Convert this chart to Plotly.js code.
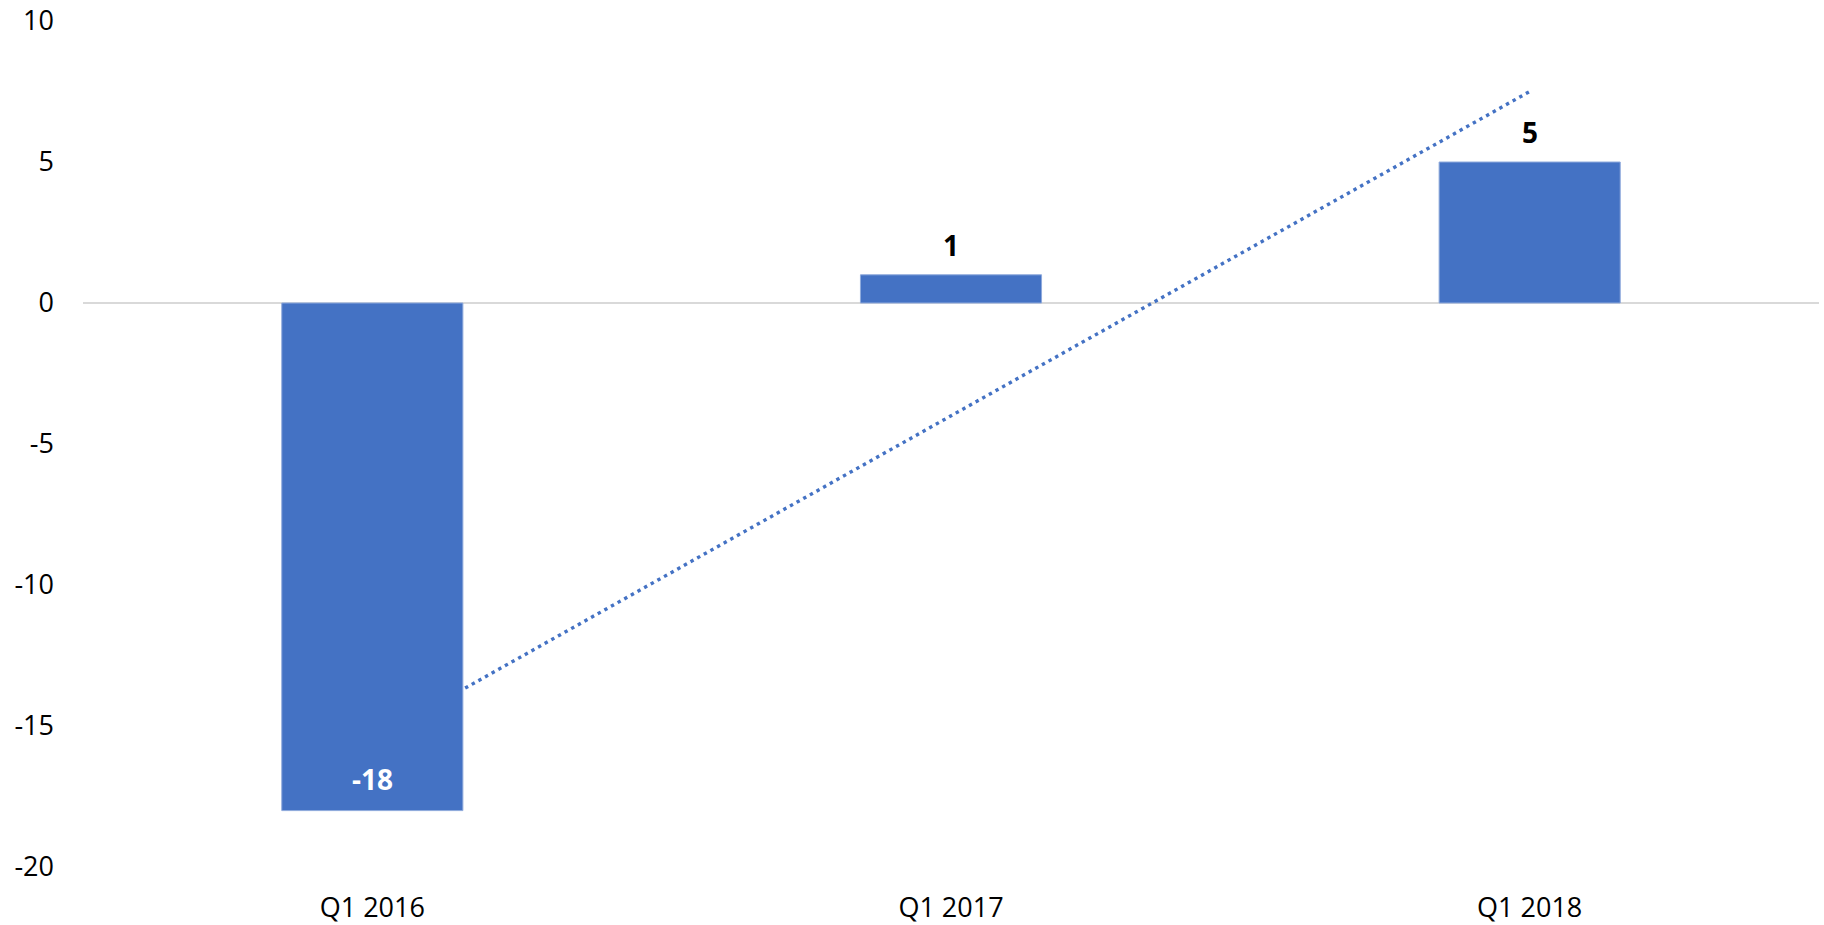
<!DOCTYPE html>
<html>
<head>
<meta charset="utf-8">
<script src="https://cdn.plot.ly/plotly-3.0.1.min.js"></script>
<style>html,body{margin:0;padding:0;background:#fff;}#chart{width:1824px;height:925px;}</style>
</head>
<body>
<div id="chart"></div>
<script>
const categories = ["Q1 2016", "Q1 2017", "Q1 2018"];
const values = [-18, 1, 5];
const yTickVals = [-20, -15, -10, -5, 0, 5, 10];
const yTickText = ["-20", "-15", "-10", "-5", "0", "5", "10"];

// linear trendline (least squares over category index)
const n = values.length;
const idx = values.map((_, i) => i);
const mx = idx.reduce((a, b) => a + b, 0) / n;
const my = values.reduce((a, b) => a + b, 0) / n;
let sxy = 0, sxx = 0;
idx.forEach((x, i) => { sxy += (x - mx) * (values[i] - my); sxx += (x - mx) * (x - mx); });
const slope = sxy / sxx;
const intercept = my - slope * mx;
const trendX = [categories[0], categories[n - 1]];
const trendY = [intercept, intercept + slope * (n - 1)];

const BLUE = "#4472C4";
const FONT = "Open Sans, sans-serif";

const traces = [
  {
    type: "scatter", mode: "lines", x: trendX, y: trendY,
    xaxis: "x", yaxis: "y",
    line: { color: BLUE, width: 3.4, dash: "3.4px,4.2px" },
    hoverinfo: "skip", showlegend: false
  },
  {
    type: "bar", x: categories, y: values,
    xaxis: "x2", yaxis: "y2",
    marker: { color: BLUE, line: { color: "#8FAADC", width: 1 } },
    showlegend: false
  }
];

const annotations = values.map((v, i) => ({
  x: categories[i], y: v, xref: "x2", yref: "y2",
  text: String(v), showarrow: false,
  yanchor: "middle", yshift: v >= 0 ? 30 : 32,
  font: { family: FONT, size: 28, color: v >= 0 ? "#000000" : "#FFFFFF", weight: 700 }
}));

const yRange = [-20, 10];
const xRange = [-0.5, n - 0.5];

const layout = {
  width: 1824, height: 925,
  margin: { l: 83, r: 5, t: 21, b: 58 },
  paper_bgcolor: "#FFFFFF", plot_bgcolor: "#FFFFFF",
  bargap: 0.687,
  showlegend: false,
  xaxis: {
    type: "category", categoryarray: categories, range: xRange,
    showgrid: false, showline: false, zeroline: false, ticks: "",
    tickfont: { family: FONT, size: 27, color: "#000000" },
    ticklabelstandoff: 22, fixedrange: true
  },
  yaxis: {
    range: yRange, tickvals: yTickVals, ticktext: yTickText,
    showgrid: false, showline: false, ticks: "",
    zeroline: true, zerolinecolor: "#D9D9D9", zerolinewidth: 2,
    tickfont: { family: FONT, size: 27, color: "#000000" },
    ticklabelstandoff: 28, fixedrange: true
  },
  xaxis2: {
    type: "category", categoryarray: categories, range: xRange,
    overlaying: "x", showgrid: false, showline: false, zeroline: false,
    showticklabels: false, ticks: "", fixedrange: true
  },
  yaxis2: {
    range: yRange, overlaying: "y", showgrid: false, showline: false,
    zeroline: false, showticklabels: false, ticks: "", fixedrange: true
  },
  annotations: annotations
};

Plotly.newPlot("chart", traces, layout, { displayModeBar: false, staticPlot: true });
</script>
</body>
</html>
